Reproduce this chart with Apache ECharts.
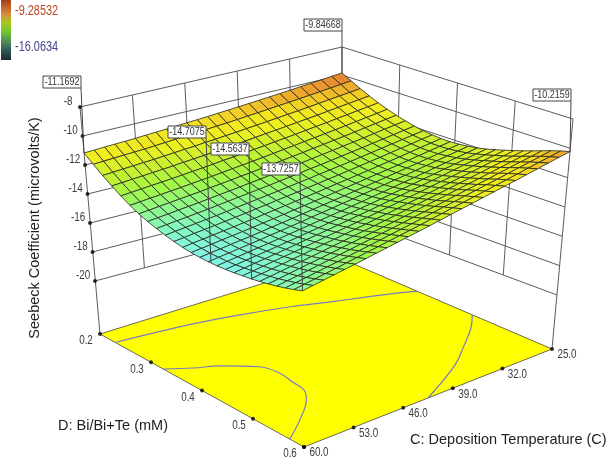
<!DOCTYPE html>
<html>
<head>
<meta charset="utf-8">
<title>Seebeck Coefficient</title>
<style>
html,body{margin:0;padding:0;background:#fff;}
#main{width:609px;height:458px;}
</style>
<script src="https://cdn.jsdelivr.net/npm/echarts@6/dist/echarts.min.js"></script>
</head>
<body>
<div id="main"></div>
<script>
//model grid: C runs along each row, D runs from row to row
var tempGrid=[60,58.6,57.2,55.8,54.4,53,51.6,50.2,48.8,47.4,46,44.6,43.2,41.8,40.4,39,37.6,36.2,34.8,33.4,32,30.6,29.2,27.8,26.4,25];
var biGrid=[0.2,0.216,0.232,0.248,0.264,0.28,0.296,0.312,0.328,0.344,0.36,0.376,0.392,0.408,0.424,0.44,0.456,0.472,0.488,0.504,0.52,0.536,0.552,0.568,0.584,0.6];
//seebeck values, one row per biGrid entry
var seebeckRows=[
[-11.17,-11.14,-11.10,-11.07,-11.04,-11.01,-10.96,-10.92,-10.88,-10.83,-10.78,-10.74,-10.69,-10.63,-10.58,-10.52,-10.46,-10.40,-10.34,-10.28,-10.21,-10.14,-10.07,-10.00,-9.92,-9.85],
[-11.68,-11.64,-11.60,-11.56,-11.53,-11.49,-11.44,-11.39,-11.34,-11.29,-11.23,-11.18,-11.12,-11.07,-11.01,-10.94,-10.88,-10.81,-10.74,-10.67,-10.60,-10.53,-10.45,-10.37,-10.29,-10.21],
[-12.17,-12.13,-12.08,-12.04,-11.99,-11.95,-11.89,-11.84,-11.78,-11.73,-11.66,-11.61,-11.54,-11.48,-11.41,-11.34,-11.27,-11.20,-11.12,-11.05,-10.97,-10.89,-10.80,-10.72,-10.64,-10.55],
[-12.62,-12.57,-12.52,-12.47,-12.42,-12.37,-12.31,-12.25,-12.19,-12.13,-12.06,-12.00,-11.93,-11.86,-11.78,-11.70,-11.63,-11.55,-11.47,-11.39,-11.31,-11.22,-11.13,-11.04,-10.95,-10.86],
[-13.03,-12.97,-12.92,-12.86,-12.81,-12.75,-12.69,-12.62,-12.56,-12.49,-12.41,-12.35,-12.27,-12.20,-12.12,-12.04,-11.96,-11.88,-11.79,-11.70,-11.62,-11.52,-11.43,-11.33,-11.24,-11.14],
[-13.40,-13.34,-13.28,-13.22,-13.16,-13.10,-13.03,-12.96,-12.89,-12.82,-12.74,-12.67,-12.59,-12.51,-12.42,-12.33,-12.25,-12.16,-12.07,-11.98,-11.89,-11.79,-11.69,-11.59,-11.49,-11.39],
[-13.70,-13.64,-13.57,-13.51,-13.44,-13.38,-13.31,-13.23,-13.16,-13.08,-13.00,-12.93,-12.84,-12.76,-12.67,-12.58,-12.50,-12.40,-12.31,-12.21,-12.12,-12.02,-11.91,-11.81,-11.70,-11.60],
[-13.95,-13.88,-13.82,-13.75,-13.68,-13.62,-13.54,-13.46,-13.39,-13.31,-13.22,-13.15,-13.06,-12.97,-12.89,-12.79,-12.70,-12.60,-12.51,-12.41,-12.31,-12.21,-12.10,-11.99,-11.89,-11.78],
[-14.15,-14.08,-14.01,-13.95,-13.88,-13.81,-13.73,-13.65,-13.57,-13.49,-13.41,-13.33,-13.24,-13.15,-13.06,-12.96,-12.88,-12.78,-12.68,-12.58,-12.48,-12.37,-12.27,-12.16,-12.05,-11.94],
[-14.33,-14.26,-14.19,-14.12,-14.05,-13.98,-13.90,-13.81,-13.73,-13.65,-13.56,-13.48,-13.39,-13.30,-13.21,-13.11,-13.02,-12.92,-12.82,-12.72,-12.61,-12.50,-12.39,-12.28,-12.17,-12.06],
[-14.48,-14.41,-14.33,-14.26,-14.19,-14.11,-14.03,-13.95,-13.86,-13.78,-13.68,-13.60,-13.51,-13.41,-13.32,-13.22,-13.12,-13.02,-12.92,-12.81,-12.71,-12.59,-12.48,-12.37,-12.25,-12.14],
[-14.60,-14.52,-14.45,-14.37,-14.29,-14.22,-14.13,-14.05,-13.96,-13.87,-13.78,-13.69,-13.59,-13.50,-13.40,-13.29,-13.20,-13.09,-12.99,-12.88,-12.77,-12.66,-12.54,-12.42,-12.31,-12.19],
[-14.68,-14.60,-14.52,-14.44,-14.36,-14.28,-14.20,-14.11,-14.02,-13.93,-13.83,-13.74,-13.64,-13.54,-13.44,-13.33,-13.23,-13.12,-13.01,-12.91,-12.80,-12.68,-12.56,-12.44,-12.32,-12.20],
[-14.73,-14.65,-14.57,-14.48,-14.40,-14.32,-14.23,-14.13,-14.04,-13.95,-13.85,-13.75,-13.65,-13.55,-13.45,-13.33,-13.23,-13.12,-13.01,-12.89,-12.78,-12.66,-12.54,-12.42,-12.29,-12.17],
[-14.75,-14.66,-14.58,-14.49,-14.41,-14.32,-14.22,-14.13,-14.03,-13.94,-13.83,-13.73,-13.63,-13.52,-13.42,-13.30,-13.19,-13.08,-12.96,-12.85,-12.73,-12.60,-12.48,-12.35,-12.23,-12.10],
[-14.75,-14.66,-14.57,-14.48,-14.39,-14.30,-14.20,-14.10,-14.00,-13.90,-13.79,-13.69,-13.59,-13.48,-13.37,-13.25,-13.14,-13.02,-12.90,-12.78,-12.66,-12.53,-12.40,-12.27,-12.14,-12.01],
[-14.72,-14.63,-14.53,-14.44,-14.35,-14.25,-14.15,-14.05,-13.94,-13.84,-13.72,-13.62,-13.51,-13.39,-13.28,-13.16,-13.04,-12.92,-12.80,-12.67,-12.55,-12.41,-12.28,-12.15,-12.01,-11.88],
[-14.67,-14.57,-14.47,-14.38,-14.28,-14.18,-14.07,-13.96,-13.86,-13.75,-13.63,-13.52,-13.40,-13.29,-13.17,-13.04,-12.92,-12.79,-12.67,-12.54,-12.41,-12.27,-12.13,-12.00,-11.86,-11.72],
[-14.60,-14.50,-14.40,-14.29,-14.19,-14.09,-13.98,-13.87,-13.75,-13.64,-13.52,-13.41,-13.29,-13.16,-13.04,-12.91,-12.79,-12.66,-12.52,-12.39,-12.26,-12.12,-11.98,-11.83,-11.69,-11.55],
[-14.53,-14.42,-14.32,-14.21,-14.10,-14.00,-13.88,-13.76,-13.65,-13.53,-13.41,-13.29,-13.16,-13.04,-12.91,-12.77,-12.65,-12.51,-12.37,-12.24,-12.10,-11.96,-11.81,-11.66,-11.52,-11.37],
[-14.44,-14.33,-14.22,-14.11,-14.00,-13.89,-13.77,-13.65,-13.53,-13.41,-13.28,-13.16,-13.03,-12.90,-12.76,-12.62,-12.49,-12.35,-12.21,-12.07,-11.93,-11.78,-11.63,-11.48,-11.33,-11.18],
[-14.33,-14.22,-14.10,-13.99,-13.87,-13.76,-13.64,-13.51,-13.39,-13.26,-13.13,-13.01,-12.87,-12.74,-12.60,-12.46,-12.33,-12.18,-12.04,-11.89,-11.75,-11.60,-11.44,-11.29,-11.13,-10.98],
[-14.21,-14.09,-13.98,-13.86,-13.74,-13.62,-13.49,-13.37,-13.24,-13.11,-12.97,-12.85,-12.71,-12.57,-12.43,-12.29,-12.15,-12.00,-11.85,-11.71,-11.56,-11.40,-11.24,-11.09,-10.93,-10.77],
[-14.07,-13.95,-13.83,-13.71,-13.59,-13.47,-13.34,-13.21,-13.08,-12.95,-12.81,-12.68,-12.54,-12.40,-12.25,-12.10,-11.96,-11.81,-11.66,-11.51,-11.36,-11.20,-11.04,-10.88,-10.72,-10.56],
[-13.91,-13.79,-13.67,-13.55,-13.43,-13.30,-13.17,-13.04,-12.91,-12.78,-12.64,-12.51,-12.37,-12.22,-12.08,-11.93,-11.79,-11.64,-11.49,-11.34,-11.19,-11.03,-10.86,-10.70,-10.54,-10.38],
[-13.73,-13.61,-13.49,-13.37,-13.25,-13.13,-13.00,-12.87,-12.74,-12.61,-12.47,-12.34,-12.20,-12.06,-11.91,-11.76,-11.62,-11.47,-11.32,-11.17,-11.02,-10.86,-10.70,-10.54,-10.38,-10.22]
];
//tick labels
var zTicks=[-8,-10,-12,-14,-16,-18,-20];
var tempTicks=[60,53,46,39,32,25];
var biTicks=[0.2,0.3,0.4,0.5,0.6];
var wallTempTicks=[53,46,39,32];
var wallBiTicks=[0.3,0.4,0.5];
//flagged points on the surface
var pointTemps=[60,60,60,60,25,25];
var pointBis=[0.2,0.429,0.505,0.6,0.2,0.6];
var pointValues=[-11.1692,-14.7075,-14.5637,-13.7257,-9.84668,-10.2159];
var pointLabels=['-11.1692','-14.7075','-14.5637','-13.7257','-9.84668','-10.2159'];
//contours projected on the floor
var lowContourTemps=[60,49.85,43.9,38.3,34.45,30.25,26.75,25];
var lowContourBis=[0.23,0.244,0.259,0.278,0.296,0.315,0.332,0.344];
var midContourTemps=[60,57.2,54.5,51.25,50.55,50.9,51.25,52.5,56.15,60];
var midContourBis=[0.324,0.344,0.36,0.392,0.421,0.454,0.48,0.501,0.539,0.572];
var highContourTemps=[25,27.6,31.3,35,42.5];
var highContourBis=[0.448,0.48,0.516,0.55,0.6];

//view of the box: corners left, back, right, front of each level
var viewTop={l:[80,107],k:[342,47],r:[573,119],b:[302,203]};    //z=-8
var viewBottom={l:[95,281],k:[342,215],r:[557,295],b:[303,387]}; //z=-20
var viewFloor={l:[100,334],k:[342,259],r:[552,349],b:[304,447]};

var fontSans='"Liberation Sans",Arial,sans-serif';

function planePoint(v,c,d){
	var a=(60-c)/35,e=(d-0.2)/0.4;
	return [
		v.l[0]*(1-a)*(1-e)+v.k[0]*a*(1-e)+v.b[0]*(1-a)*e+v.r[0]*a*e,
		v.l[1]*(1-a)*(1-e)+v.k[1]*a*(1-e)+v.b[1]*(1-a)*e+v.r[1]*a*e
	];
}
function project(c,d,z){
	var p=planePoint(viewTop,c,d),q=planePoint(viewBottom,c,d),t=(z+20)/12;
	return [q[0]+(p[0]-q[0])*t,q[1]+(p[1]-q[1])*t];
}
function floorPoint(c,d){
	return planePoint(viewFloor,c,d);
}

//colour ramp of the surface
var rampValues=[-16.06,-14.8,-14.2,-13.6,-13,-12.2,-11.5,-11,-10.6,-10.2,-9.85,-9.28];
var rampColors=[[96,144,240],[128,244,236],[132,248,192],[144,248,136],[160,248,72],[200,240,48],[238,240,32],[244,228,32],[240,190,40],[236,150,48],[216,112,56],[192,64,32]];
function surfaceColor(z){
	for(var n=0;n<rampValues.length-1;n++){
		if(z<=rampValues[n+1]){
			var t=Math.max(0,(z-rampValues[n])/(rampValues[n+1]-rampValues[n]));
			var a=rampColors[n],b=rampColors[n+1];
			return 'rgb('+Math.round(a[0]+(b[0]-a[0])*t)+','+Math.round(a[1]+(b[1]-a[1])*t)+','+Math.round(a[2]+(b[2]-a[2])*t)+')';
		}
	}
	return 'rgb(192,64,32)';
}

//far cells first so the near ones paint over them
var cells=[];
for(var i=tempGrid.length-2;i>=0;i--){
	for(var j=0;j<biGrid.length-1;j++){
		cells.push([i,j]);
	}
}
function renderCell(params,api){
	var i=api.value(0),j=api.value(1);
	var corners=[[i,j],[i+1,j],[i+1,j+1],[i,j+1]];
	var sum=0,pts=[];
	for(var n=0;n<4;n++){
		var ci=corners[n][0],cj=corners[n][1];
		var z=seebeckRows[cj][ci];
		sum+=z;
		pts.push(api.coord(project(tempGrid[ci],biGrid[cj],z)));
	}
	return {
		type:'polygon',
		shape:{points:pts},
		style:{fill:surfaceColor(sum/4),stroke:'rgba(40,40,30,0.9)',lineWidth:0.9}
	};
}

function lineSeries(points,color,width,smooth){
	return {
		type:'line',data:points,symbol:'none',smooth:smooth||false,silent:true,
		lineStyle:{color:color,width:width},z:2
	};
}

var wallColor='#5c5c5c';
var series=[];
//back walls
zTicks.forEach(function(z){
	series.push(lineSeries([project(60,0.2,z),project(25,0.2,z),project(25,0.6,z)],wallColor,1));
});
wallTempTicks.forEach(function(c){
	series.push(lineSeries([project(c,0.2,-8),project(c,0.2,-20)],wallColor,1));
});
wallBiTicks.forEach(function(d){
	series.push(lineSeries([project(25,d,-8),project(25,d,-20)],wallColor,1));
});
series.push(lineSeries([project(25,0.2,-8),project(25,0.2,-20)],wallColor,1));
series.push(lineSeries([project(60,0.2,-8),floorPoint(60,0.2)],wallColor,1));
series.push(lineSeries([project(25,0.6,-8),floorPoint(25,0.6)],wallColor,1));
//floor
series.push({
	type:'custom',silent:true,z:2,
	data:[[0,0]],
	renderItem:function(params,api){
		var pts=[floorPoint(60,0.2),floorPoint(25,0.2),floorPoint(25,0.6),floorPoint(60,0.6)].map(function(p){return api.coord(p);});
		return {type:'polygon',shape:{points:pts},style:{fill:'#ffff00',stroke:'#6a6a50',lineWidth:1}};
	}
});
function contourSeries(temps,bis){
	var pts=[];
	for(var n=0;n<temps.length;n++){
		pts.push(floorPoint(temps[n],bis[n]));
	}
	return lineSeries(pts,'#7a7ac4',1.2,0.4);
}
series.push(contourSeries(lowContourTemps,lowContourBis));
series.push(contourSeries(midContourTemps,midContourBis));
series.push(contourSeries(highContourTemps,highContourBis));
//surface
series.push({type:'custom',silent:true,z:3,data:cells,renderItem:renderCell});

//ticks with their labels, the reference text is narrow so it gets squeezed
function tickSeries(points,labels,dx,dy){
	series.push({
		type:'scatter',silent:true,z:4,symbol:'circle',symbolSize:4,
		itemStyle:{color:'#000'},data:points
	});
	series.push({
		type:'custom',silent:true,z:4,data:points,
		renderItem:function(params,api){
			var p=api.coord([api.value(0),api.value(1)]);
			return {
				type:'text',x:p[0]+dx,y:p[1]+dy,scaleX:0.82,
				style:{text:labels[params.dataIndex],fill:'#3a3a3a',font:'12px '+fontSans,align:'center',verticalAlign:'middle'}
			};
		}
	});
}
tickSeries(zTicks.map(function(z){return project(60,0.2,z);}),zTicks.map(String),-12,-5);
tickSeries(biTicks.map(function(d){return floorPoint(60,d);}),biTicks.map(function(d){return d.toFixed(1);}),-14,7);
tickSeries(tempTicks.map(function(c){return floorPoint(c,0.6);}),tempTicks.map(function(c){return c.toFixed(1);}),15,6);

//leader lines and boxed values of the flagged points
var labelRight=[81,206,249,300,342,571];
var labelBottom=[88,138,155,175,31,101];
var labelAnchors=[];
for(var n=0;n<pointValues.length;n++){
	var leaderEnd=project(pointTemps[n],pointBis[n],pointValues[n]);
	var leaderStart=[labelRight[n],labelBottom[n]];
	var leader=lineSeries([leaderStart,leaderEnd],'#444',1);
	leader.z=5;
	series.push(leader);
	labelAnchors.push(leaderStart);
}
series.push({
	type:'custom',silent:true,z:6,data:labelAnchors,
	renderItem:function(params,api){
		var p=api.coord([api.value(0),api.value(1)]);
		return {
			type:'group',x:p[0],y:p[1],
			children:[
				{type:'rect',shape:{x:-38,y:-12,width:38,height:12},style:{fill:'#fff',stroke:'#444',lineWidth:1}},
				{type:'text',x:-19,y:-6,scaleX:0.78,style:{text:pointLabels[params.dataIndex],fill:'#333',font:'11.5px '+fontSans,align:'center',verticalAlign:'middle'}}
			]
		};
	}
});

var option={
	animation:false,
	backgroundColor:'#fff',
	grid:{left:0,right:0,top:0,bottom:0},
	xAxis:{type:'value',min:0,max:609,show:false},
	yAxis:{type:'value',min:0,max:458,inverse:true,show:false},
	series:series,
	graphic:[
		{type:'rect',left:1,top:0,shape:{width:10,height:60},z:10,style:{
			fill:new echarts.graphic.LinearGradient(0,0,0,1,[
				{offset:0,color:'#a83c18'},
				{offset:0.23,color:'#d88a40'},
				{offset:0.37,color:'#a8c820'},
				{offset:0.53,color:'#70c830'},
				{offset:0.7,color:'#508858'},
				{offset:0.84,color:'#305858'},
				{offset:1,color:'#1a2a30'}
			])
		}},
		{type:'text',x:15,y:11,scaleX:0.78,z:10,style:{text:'-9.28532',fill:'#b84820',font:'14px '+fontSans,textVerticalAlign:'middle'}},
		{type:'text',x:15,y:47,scaleX:0.78,z:10,style:{text:'-16.0634',fill:'#45458c',font:'14px '+fontSans,textVerticalAlign:'middle'}},
		{type:'text',x:35,y:228,rotation:Math.PI/2,z:10,style:{text:'Seebeck Coefficient (microvolts/K)',fill:'#222',font:'14.5px '+fontSans,textAlign:'center',textVerticalAlign:'middle'}},
		{type:'text',x:58,y:426,z:10,style:{text:'D: Bi/Bi+Te (mM)',fill:'#222',font:'14.5px '+fontSans,textVerticalAlign:'middle'}},
		{type:'text',x:410,y:440,z:10,style:{text:'C: Deposition Temperature (C)',fill:'#222',font:'14.5px '+fontSans,textVerticalAlign:'middle'}}
	]
};
var myChart=echarts.init(document.getElementById('main'));
myChart.setOption(option);
</script>
</body>
</html>
